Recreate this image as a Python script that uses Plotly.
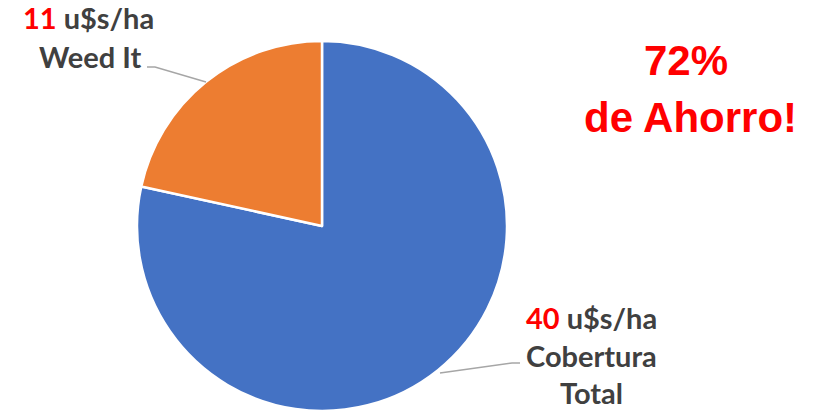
import plotly.graph_objects as go

W, H = 821, 411
OFF = 8  # default page body margin
categories = ["Cobertura Total", "Weed It"]
values = [40, 11]
value_labels = ["40", "11"]
unit = "u$s/ha"
colors = ["#4472C4", "#ED7D31"]
saving_text = ["72%", "de Ahorro!"]

def px(x):
    return (x - OFF) / W

def py(y):
    return 1 - (y - OFF) / H

fig = go.Figure()
fig.add_trace(go.Pie(
    labels=categories,
    values=values,
    sort=False,
    direction="clockwise",
    rotation=0,
    marker=dict(colors=colors, line=dict(color="white", width=2.5)),
    textinfo="none",
    hoverinfo="label+value",
    showlegend=False,
    domain=dict(x=[px(137), px(507)], y=[py(411), py(41)]),
))

lab_font = dict(family="Lato", size=29, color="#404040")
red = "#FF0000"

annotations = [
    dict(x=px(88), y=py(18), text=f"<b><span style='color:{red}'>{value_labels[1]}</span> {unit}</b>"),
    dict(x=px(90), y=py(57), text="<b>Weed It</b>"),
    dict(x=px(591), y=py(317), text=f"<b><span style='color:{red}'>{value_labels[0]}</span> {unit}</b>"),
    dict(x=px(591), y=py(355), text="<b>Cobertura</b>"),
    dict(x=px(591), y=py(392), text="<b>Total</b>"),
]
for a in annotations:
    fig.add_annotation(xref="paper", yref="paper", xanchor="center", yanchor="middle",
                       showarrow=False, font=lab_font, **a)

big_font = dict(family="Liberation Sans", size=42, color=red)
fig.add_annotation(xref="paper", yref="paper", x=px(686), y=py(60), text=f"<b>{saving_text[0]}</b>",
                   showarrow=False, font=big_font, xanchor="center", yanchor="middle")
fig.add_annotation(xref="paper", yref="paper", x=px(690), y=py(117), text=f"<b>{saving_text[1]}</b>",
                   showarrow=False, font=big_font, xanchor="center", yanchor="middle")

line_style = dict(color="#A6A6A6", width=1.5)
fig.add_shape(type="path", xref="paper", yref="paper",
              path=f"M {px(147)} {py(67)} L {px(155)} {py(67)} L {px(206)} {py(82)}",
              line=line_style)
fig.add_shape(type="path", xref="paper", yref="paper",
              path=f"M {px(440)} {py(373)} L {px(512)} {py(363)} L {px(520)} {py(363)}",
              line=line_style)

fig.update_layout(width=W, height=H, margin=dict(l=0, r=0, t=0, b=0),
                  paper_bgcolor="white", plot_bgcolor="white")
fig.write_html("out.html")
